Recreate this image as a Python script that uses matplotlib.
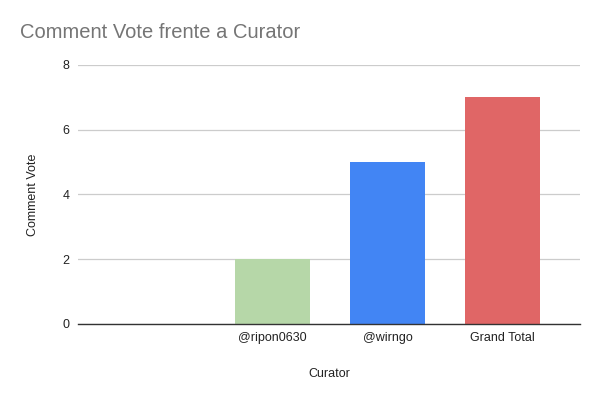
import matplotlib
matplotlib.use('Agg')
import matplotlib.pyplot as plt

plt.rcParams['font.family'] = ['Liberation Sans', 'DejaVu Sans']

curators = ['', '@ripon0630', '@wirngo', 'Grand Total']
votes = [0, 2, 5, 7]
colors = ['#ffffff', '#b6d7a8', '#4285f4', '#e06666']

fig = plt.figure(figsize=(6, 3.97), dpi=100)
ax = fig.add_axes([78 / 600, 1 - 324 / 397, 502 / 600, (324 - 64.7) / 397])

x = list(range(len(curators)))
for i in x[1:]:
    ax.bar(i, votes[i], width=0.645, color=colors[i], zorder=3)

ax.set_xlim(-0.69, 3.674)
ax.set_ylim(0, 8)
ax.set_yticks([0, 2, 4, 6, 8])
ax.grid(axis='y', color='#cccccc', linewidth=0.9, zorder=0)
ax.set_xticks(x)
ax.set_xticklabels(curators)
ax.tick_params(axis='both', length=0, labelsize=9, colors='#222222', pad=6)
ax.tick_params(axis='y', pad=6)

for s in ['top', 'right', 'left']:
    ax.spines[s].set_visible(False)
ax.spines['bottom'].set_color('#333333')
ax.spines['bottom'].set_linewidth(1)
ax.spines['bottom'].set_zorder(4)

ax.set_xlabel('Curator', fontsize=9, color='#222222', labelpad=17)
ax.set_ylabel('Comment Vote', fontsize=9, color='#222222', labelpad=17)

fig.text(20 / 600, 1 - 33 / 397, 'Comment Vote frente a Curator', fontsize=14.5,
         color='#757575', va='center', ha='left')

plt.savefig('out.png', dpi=100)
plt.close()
